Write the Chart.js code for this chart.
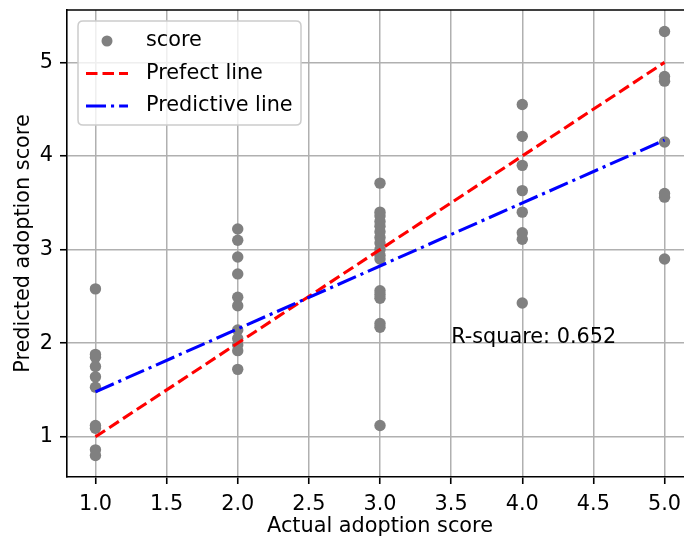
<!DOCTYPE html>
<html>
<head>
<meta charset="utf-8">
<script src="https://cdn.jsdelivr.net/npm/chart.js@4/dist/chart.umd.min.js"></script>
<style>
html,body{margin:0;padding:0;overflow:hidden;background:#fff;width:684px;height:538px;}
#wrap{position:absolute;left:0;top:0;width:684px;height:538px;overflow:hidden;}
#c{display:block;}
</style>
</head>
<body>
<div id="wrap"><canvas id="c" width="720" height="538"></canvas></div>
<script>
// ---- data ----
const categories = [1, 2, 3, 4, 5];              // actual adoption score
const predictedAt1 = [2.58, 1.88, 1.85, 1.75, 1.64, 1.53, 1.12, 1.09, 0.86, 0.80];
const predictedAt2 = [3.22, 3.10, 2.92, 2.74, 2.49, 2.40, 2.14, 2.05, 1.98, 1.92, 1.72];
const predictedAt3 = [3.71, 3.40, 3.36, 3.30, 3.25, 3.19, 3.13, 3.07, 3.00, 2.94, 2.90, 2.56, 2.52, 2.48, 2.21, 2.17, 1.12];
const predictedAt4 = [4.55, 4.21, 3.90, 3.63, 3.40, 3.18, 3.11, 2.43];
const predictedAt5 = [5.33, 4.85, 4.80, 4.15, 3.60, 3.56, 2.90];
const lineX = [1, 5];
const perfectLineY = [1, 5];
const predictiveLineY = [1.48, 4.17];
const xTicks = [1.0, 1.5, 2.0, 2.5, 3.0, 3.5, 4.0, 4.5, 5.0];
const yTicks = [1, 2, 3, 4, 5];
const rSquareLabel = 'R-square: 0.652';
const rSquarePos = {x: 3.5, y: 2.0};
const seriesLabels = ['score', 'Prefect line', 'Predictive line'];

const columns = [predictedAt1, predictedAt2, predictedAt3, predictedAt4, predictedAt5];
const scatterPts = [];
columns.forEach((col, i) => col.forEach(v => scatterPts.push({x: categories[i], y: v})));
const perfectPts = lineX.map((x, i) => ({x, y: perfectLineY[i]}));
const predictivePts = lineX.map((x, i) => ({x, y: predictiveLineY[i]}));

const FONT = 'DejaVu Sans';
const FS = 20.8;
const RED_DASH = [11.5, 5];
const BLUE_DASH = [20, 5, 3.1, 5];

const framePlugin = {
  id: 'frame',
  afterDatasetsDraw(chart) {
    const {ctx, chartArea: a} = chart;
    ctx.save();
    ctx.strokeStyle = '#000';
    ctx.lineWidth = 1.6;
    ctx.beginPath();
    ctx.moveTo(a.left, a.top); ctx.lineTo(a.right, a.top); ctx.lineTo(a.right, a.bottom);
    ctx.stroke();
    ctx.restore();
  },
  afterDraw(chart) {
    const {ctx, chartArea: a, scales} = chart;
    ctx.save();
    // R-square annotation
    ctx.font = FS + 'px "' + FONT + '"';
    ctx.fillStyle = '#000';
    ctx.textAlign = 'left';
    ctx.textBaseline = 'alphabetic';
    ctx.fillText(rSquareLabel, scales.x.getPixelForValue(rSquarePos.x), scales.y.getPixelForValue(rSquarePos.y));
    // legend
    const L = a.left + 11, T = a.top + 11, W = 223, H = 104, r = 5;
    ctx.beginPath();
    ctx.moveTo(L + r, T); ctx.lineTo(L + W - r, T); ctx.quadraticCurveTo(L + W, T, L + W, T + r);
    ctx.lineTo(L + W, T + H - r); ctx.quadraticCurveTo(L + W, T + H, L + W - r, T + H);
    ctx.lineTo(L + r, T + H); ctx.quadraticCurveTo(L, T + H, L, T + H - r);
    ctx.lineTo(L, T + r); ctx.quadraticCurveTo(L, T, L + r, T);
    ctx.closePath();
    ctx.fillStyle = 'rgba(255,255,255,0.8)';
    ctx.fill();
    ctx.strokeStyle = '#cccccc';
    ctx.lineWidth = 1.5;
    ctx.stroke();
    const rows = [T + 20, T + 52.5, T + 85];
    const hx0 = L + 8, hx1 = L + 50, tx = L + 68;
    // score marker
    ctx.fillStyle = '#808080';
    ctx.beginPath(); ctx.arc((hx0 + hx1) / 2, rows[0], 5.5, 0, Math.PI * 2); ctx.fill();
    ctx.lineWidth = 3.1;
    ctx.strokeStyle = '#ff0000'; ctx.setLineDash(RED_DASH);
    ctx.beginPath(); ctx.moveTo(hx0, rows[1]); ctx.lineTo(hx1, rows[1]); ctx.stroke();
    ctx.strokeStyle = '#0000ff'; ctx.setLineDash(BLUE_DASH);
    ctx.beginPath(); ctx.moveTo(hx0, rows[2]); ctx.lineTo(hx1, rows[2]); ctx.stroke();
    ctx.setLineDash([]);
    ctx.fillStyle = '#000';
    ctx.textBaseline = 'middle';
    seriesLabels.forEach((t, i) => ctx.fillText(t, tx, rows[i]));
    ctx.restore();
  }
};

new Chart(document.getElementById('c'), {
  type: 'scatter',
  data: {
    datasets: [
      {label: seriesLabels[0], data: scatterPts, backgroundColor: '#808080', borderColor: '#808080',
       pointRadius: 5.7, pointHoverRadius: 5.7, borderWidth: 0, order: 3},
      {label: seriesLabels[1], type: 'line', data: perfectPts, borderColor: '#ff0000', borderWidth: 3.1,
       borderDash: RED_DASH, pointRadius: 0, fill: false, order: 2},
      {label: seriesLabels[2], type: 'line', data: predictivePts, borderColor: '#0000ff', borderWidth: 3.1,
       borderDash: BLUE_DASH, pointRadius: 0, fill: false, order: 1}
    ]
  },
  options: {
    responsive: false,
    maintainAspectRatio: false,
    animation: false,
    devicePixelRatio: 1,
    layout: {padding: {left: 0, top: 10, right: 27, bottom: 0}},
    plugins: {legend: {display: false}, tooltip: {enabled: false}},
    scales: {
      x: {
        type: 'linear', min: 0.8, max: 5.2,
        afterBuildTicks: s => { s.ticks = xTicks.map(v => ({value: v})); },
        afterFit: s => { s.height = 61; s.paddingLeft = 0; s.paddingRight = 0; },
        ticks: {callback: v => Number(v).toFixed(1), font: {family: FONT, size: FS}, color: '#000', padding: 8, maxRotation: 0, autoSkip: false},
        grid: {color: '#b0b0b0', lineWidth: 1.5, tickColor: '#000', tickLength: 7, tickWidth: 1.6},
        border: {display: true, color: '#000', width: 1.6},
        title: {display: true, text: 'Actual adoption score', font: {family: FONT, size: FS, lineHeight: 1}, color: '#000', padding: {top: 0, bottom: 1}}
      },
      y: {
        type: 'linear', min: 0.57, max: 5.56,
        afterBuildTicks: s => { s.ticks = yTicks.map(v => ({value: v})); },
        afterFit: s => { s.width = 67; s.paddingTop = 0; s.paddingBottom = 0; },
        ticks: {callback: v => String(v), font: {family: FONT, size: FS}, color: '#000', padding: 7, autoSkip: false},
        grid: {color: '#b0b0b0', lineWidth: 1.5, tickColor: '#000', tickLength: 7, tickWidth: 1.6},
        border: {display: true, color: '#000', width: 1.6},
        title: {display: true, text: 'Predicted adoption score', font: {family: FONT, size: FS, lineHeight: 1}, color: '#000', padding: {top: 13, bottom: 0}}
      }
    }
  },
  plugins: [framePlugin]
});
</script>
</body>
</html>
